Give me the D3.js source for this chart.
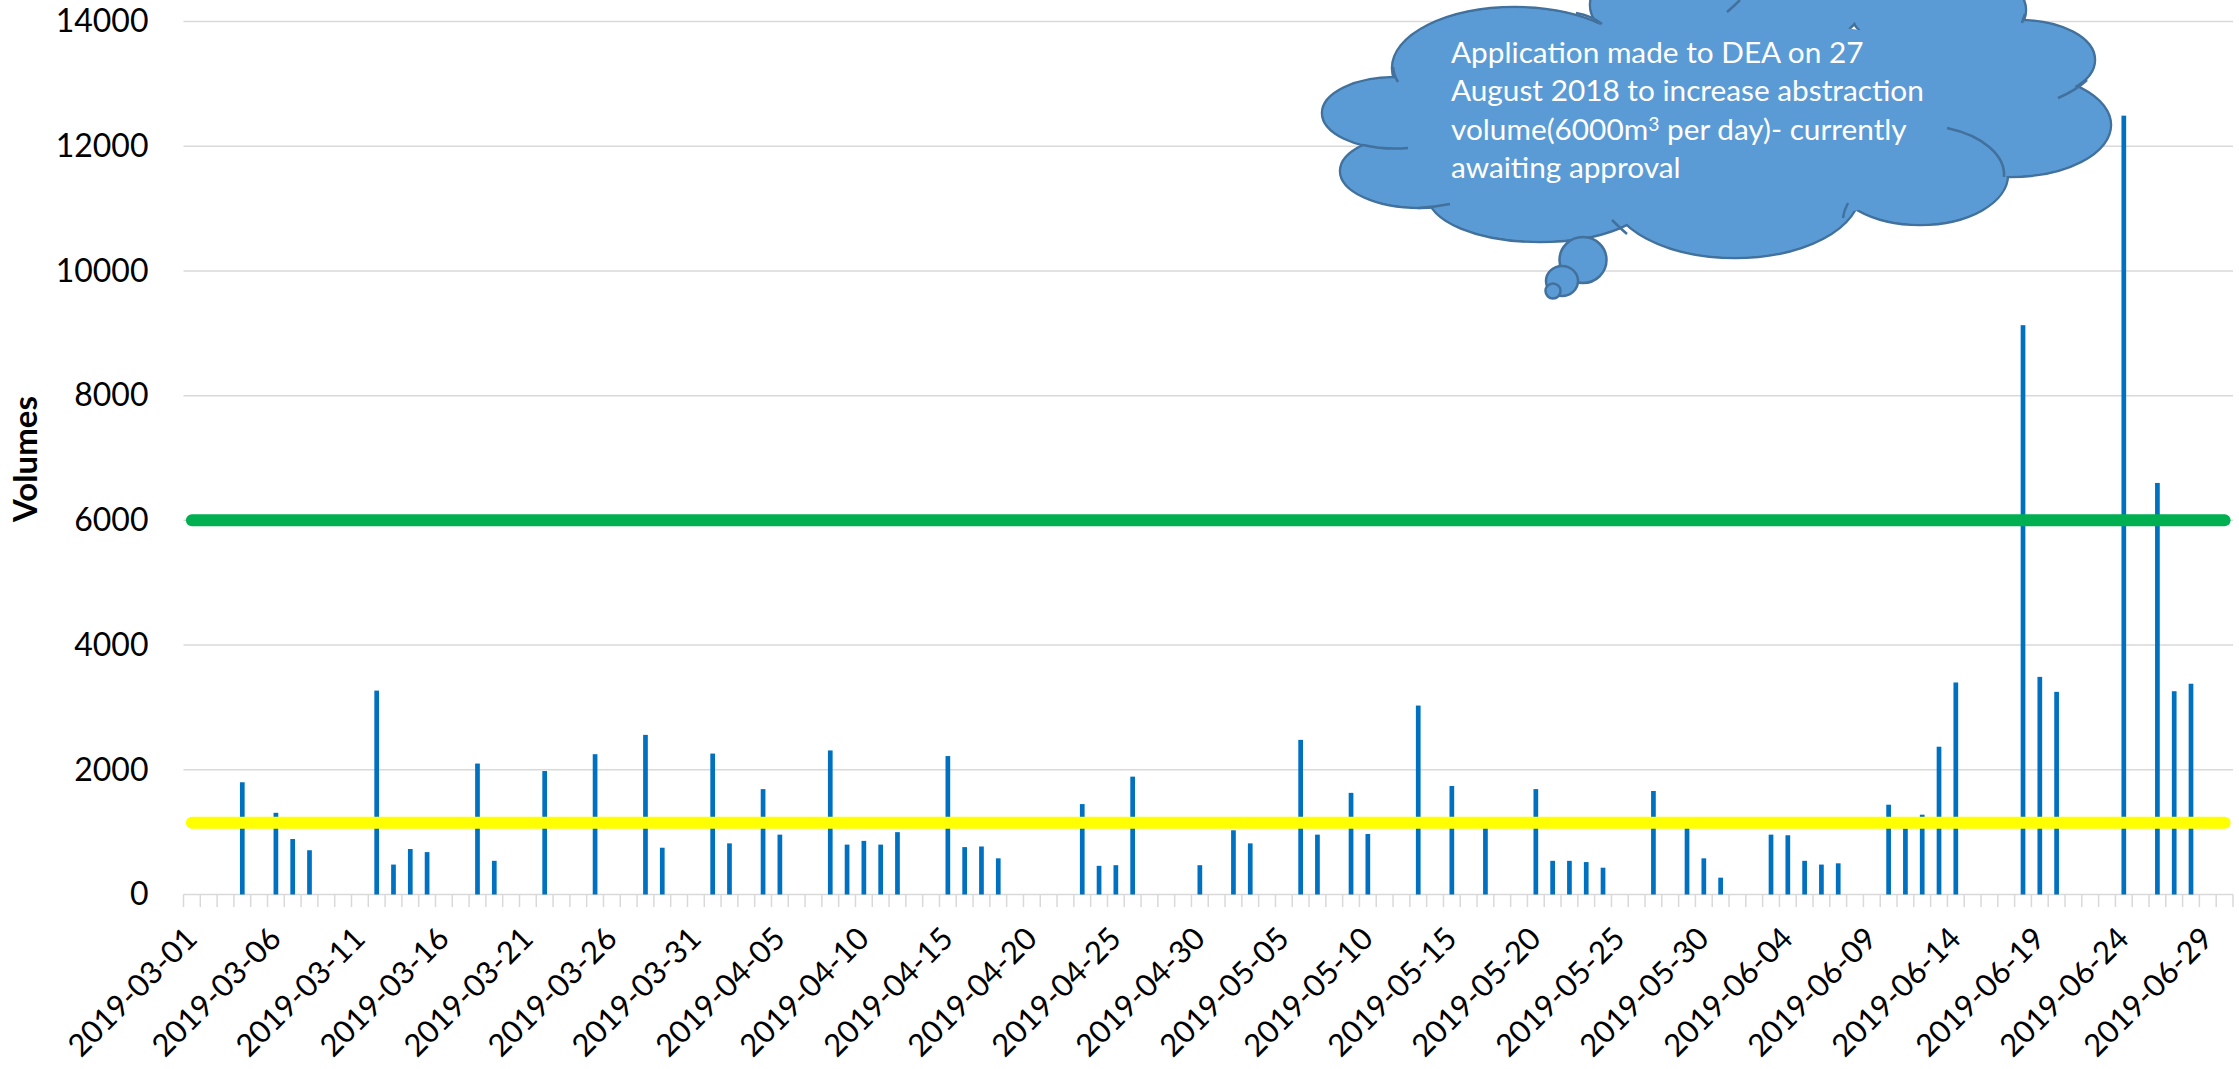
<!DOCTYPE html>
<html>
<head>
<meta charset="utf-8">
<script src="https://cdn.jsdelivr.net/npm/d3@7"></script>
<style>
  html, body { margin: 0; padding: 0; background: #fff; }
  svg { display: block; }
</style>
</head>
<body>
<div id="chart"></div>
<script>
// Daily abstraction volumes, 2019-03-01 .. 2019-06-30 (days without a bar are empty)
const startDay = '2019-03-01';
const endDay = '2019-07-01';   // exclusive

const volumeDays = [
  '2019-03-04', '2019-03-06', '2019-03-07', '2019-03-08', '2019-03-12', '2019-03-13',
  '2019-03-14', '2019-03-15', '2019-03-18', '2019-03-19', '2019-03-22', '2019-03-25',
  '2019-03-28', '2019-03-29', '2019-04-01', '2019-04-02', '2019-04-04', '2019-04-05',
  '2019-04-08', '2019-04-09', '2019-04-10', '2019-04-11', '2019-04-12', '2019-04-15',
  '2019-04-16', '2019-04-17', '2019-04-18', '2019-04-23', '2019-04-24', '2019-04-25',
  '2019-04-26', '2019-04-30', '2019-05-02', '2019-05-03', '2019-05-06', '2019-05-07',
  '2019-05-09', '2019-05-10', '2019-05-13', '2019-05-15', '2019-05-17', '2019-05-20',
  '2019-05-21', '2019-05-22', '2019-05-23', '2019-05-24', '2019-05-27', '2019-05-29',
  '2019-05-30', '2019-05-31', '2019-06-03', '2019-06-04', '2019-06-05', '2019-06-06',
  '2019-06-07', '2019-06-10', '2019-06-11', '2019-06-12', '2019-06-13', '2019-06-14',
  '2019-06-18', '2019-06-19', '2019-06-20', '2019-06-24', '2019-06-26', '2019-06-27',
  '2019-06-28',
];
const volumeValues = [
  1800, 1310, 890, 710, 3270, 480,
  730, 680, 2100, 540, 1980, 2250,
  2560, 750, 2260, 820, 1690, 960,
  2310, 800, 860, 800, 1000, 2220,
  760, 770, 580, 1450, 460, 470,
  1890, 470, 1030, 820, 2480, 960,
  1630, 970, 3030, 1740, 1100, 1690,
  540, 540, 520, 430, 1660, 1100,
  580, 270, 960, 950, 540, 480,
  500, 1440, 1060, 1280, 2370, 3400,
  9130, 3490, 3250, 12490, 6600, 3260,
  3380,
];

// Reference levels drawn as horizontal lines
const approvedLimit = 6000;   // green
const averageLevel = 1150;    // yellow

const yTicks = [0, 2000, 4000, 6000, 8000, 10000, 12000, 14000];
const labelEvery = 5;

const calloutLines = [
  'Application made to DEA on 27',
  'August 2018 to increase  abstraction',
  ['volume(6000m', '3', ' per day)- currently'],
  'awaiting approval',
];

// ---------------------------------------------------------------------------
const W = 2239, H = 1069;
const plot = { left: 183.5, right: 2233, top: 21.5, bottom: 894.5 };
const FONT = 'Lato, "Open Sans", sans-serif';

const fmt = d3.timeFormat('%Y-%m-%d');
const parse = d3.timeParse('%Y-%m-%d');
const categories = d3.timeDay.range(parse(startDay), parse(endDay)).map(fmt);
const bars = volumeDays.map((d, i) => ({ day: d, value: volumeValues[i] }));

const svg = d3.select('#chart').append('svg')
  .attr('width', W).attr('height', H)
  .attr('viewBox', `0 0 ${W} ${H}`);

svg.append('rect').attr('width', W).attr('height', H).attr('fill', '#fff');

const x = d3.scaleBand().domain(categories).range([plot.left, plot.right]).padding(0);
const y = d3.scaleLinear().domain([0, 14000]).range([plot.bottom, plot.top]);
const cx = (d) => x(d) + x.bandwidth() / 2;

// gridlines
svg.append('g').selectAll('line')
  .data(yTicks.filter((t) => t > 0))
  .enter().append('line')
  .attr('x1', plot.left).attr('x2', plot.right)
  .attr('y1', (d) => y(d)).attr('y2', (d) => y(d))
  .attr('stroke', '#d9d9d9').attr('stroke-width', 1.5);

// y axis labels
const yAxis = d3.axisLeft(y).tickValues(yTicks).tickSize(0).tickPadding(35)
  .tickFormat(d3.format('d'));
const yg = svg.append('g').attr('transform', `translate(${plot.left},0)`).call(yAxis);
yg.select('.domain').remove();
yg.selectAll('text')
  .attr('font-family', FONT).attr('font-size', 32).attr('fill', '#000');

// y title
svg.append('text')
  .attr('transform', `translate(37,459) rotate(-90)`)
  .attr('text-anchor', 'middle')
  .attr('font-family', FONT).attr('font-weight', 'bold').attr('font-size', 33)
  .attr('fill', '#000')
  .text('Volumes');

// x axis line + category ticks
svg.append('line')
  .attr('x1', plot.left).attr('x2', plot.right)
  .attr('y1', plot.bottom).attr('y2', plot.bottom)
  .attr('stroke', '#d9d9d9').attr('stroke-width', 1.5);
const tickXs = categories.map((d) => x(d)).concat([plot.right]);
svg.append('g').selectAll('line')
  .data(tickXs)
  .enter().append('line')
  .attr('x1', (d) => d).attr('x2', (d) => d)
  .attr('y1', plot.bottom).attr('y2', plot.bottom + 12.5)
  .attr('stroke', '#d9d9d9').attr('stroke-width', 1.5);

// x labels, rotated
svg.append('g').selectAll('text')
  .data(categories.filter((d, i) => i % labelEvery === 0))
  .enter().append('text')
  .attr('transform', (d) => `translate(${cx(d) + 7},${plot.bottom + 46}) rotate(-45)`)
  .attr('text-anchor', 'end')
  .attr('font-family', FONT).attr('font-size', 31).attr('fill', '#000')
  .text((d) => d);

// bars
const barW = 4.7;
svg.append('g').selectAll('rect')
  .data(bars)
  .enter().append('rect')
  .attr('x', (d) => cx(d.day) - barW / 2)
  .attr('width', barW)
  .attr('y', (d) => y(d.value))
  .attr('height', (d) => y(0) - y(d.value))
  .attr('fill', '#0070c0');

// reference lines across all categories
const levelLine = (v) => d3.line()
  .x((d) => cx(d))
  .y(() => y(v))([categories[0], categories[categories.length - 1]]);

svg.append('path')
  .attr('d', levelLine(approvedLimit))
  .attr('stroke', '#00b050').attr('stroke-width', 12)
  .attr('stroke-linecap', 'round').attr('fill', 'none');

svg.append('path')
  .attr('d', levelLine(averageLevel))
  .attr('stroke', '#ffff00').attr('stroke-width', 12)
  .attr('stroke-linecap', 'round').attr('fill', 'none');

// ---------------------------------------------------------------------------
// Thought-cloud callout
const cloudFill = '#5b9bd5', cloudStroke = '#41719c';
const lobes = [
  [1395, 113, 73, 36], [1420, 171, 80, 37], [1540, 196, 112, 46],
  [1735, 192, 125, 66], [1920, 175, 88, 50], [2010, 125, 101, 52],
  [2020, 60, 75, 40], [1938, 10, 88, 45], [1790, 5, 72, 42],
  [1670, 5, 80, 45], [1515, 68, 123, 61],
];
const cloud = svg.append('g');
// outline pass
cloud.selectAll('.lobe-s').data(lobes).enter().append('ellipse')
  .attr('cx', (d) => d[0]).attr('cy', (d) => d[1])
  .attr('rx', (d) => d[2]).attr('ry', (d) => d[3])
  .attr('fill', cloudFill).attr('stroke', cloudStroke).attr('stroke-width', 2.5);
// fill pass hides inner outlines
cloud.append('ellipse')
  .attr('cx', 1715).attr('cy', 120).attr('rx', 330).attr('ry', 100)
  .attr('fill', cloudFill);
cloud.selectAll('.lobe-f').data(lobes).enter().append('ellipse')
  .attr('cx', (d) => d[0]).attr('cy', (d) => d[1])
  .attr('rx', (d) => d[2] - 1.3).attr('ry', (d) => d[3] - 1.3)
  .attr('fill', cloudFill);
// small inner creases
const creases = [
  'M1363,145 Q1385,150 1408,148',
  'M1418,208 Q1435,207 1450,204',
  'M1576,13 Q1592,16 1602,24',
  'M1612,220 Q1620,228 1627,234',
  'M1848,203 Q1844,210 1843,218',
  'M1947,128 A88,50 0 0 1 2004,177',
  'M2058,98 Q2075,91 2087,80',
  'M2022,23 Q2023,19 2025,14',
  'M1398,82 Q1394,76 1393,67',
  'M1727,12 Q1734,6 1740,0',
];
cloud.selectAll('.crease').data(creases).enter().append('path')
  .attr('d', (d) => d)
  .attr('fill', 'none').attr('stroke', cloudStroke).attr('stroke-width', 2.5);
// trailing bubbles
const bubbles = [[1583, 260, 23.5, 23], [1562, 281, 16, 15], [1553, 291, 7.5, 7.5]];
cloud.selectAll('.bubble').data(bubbles).enter().append('ellipse')
  .attr('cx', (d) => d[0]).attr('cy', (d) => d[1])
  .attr('rx', (d) => d[2]).attr('ry', (d) => d[3])
  .attr('fill', cloudFill).attr('stroke', cloudStroke).attr('stroke-width', 2.5);

// callout text, sized so the longest line spans ~473px
const textG = cloud.append('g')
  .attr('font-family', FONT).attr('fill', '#fff');
const texts = calloutLines.map((line, i) => {
  const t = textG.append('text').attr('x', 1451).attr('y', 63 + i * 38.4);
  if (Array.isArray(line)) {
    t.append('tspan').text(line[0]);
    t.append('tspan').attr('class', 'sup').attr('dy', -9).text(line[1]);
    t.append('tspan').attr('dy', 9).text(line[2]);
  } else {
    t.text(line);
  }
  return t;
});
textG.attr('font-size', 26);
const w2 = texts[1].node().getComputedTextLength();
const fs = 26 * 473 / w2;
textG.attr('font-size', fs);
textG.selectAll('.sup').attr('font-size', fs * 0.65);
</script>
</body>
</html>
